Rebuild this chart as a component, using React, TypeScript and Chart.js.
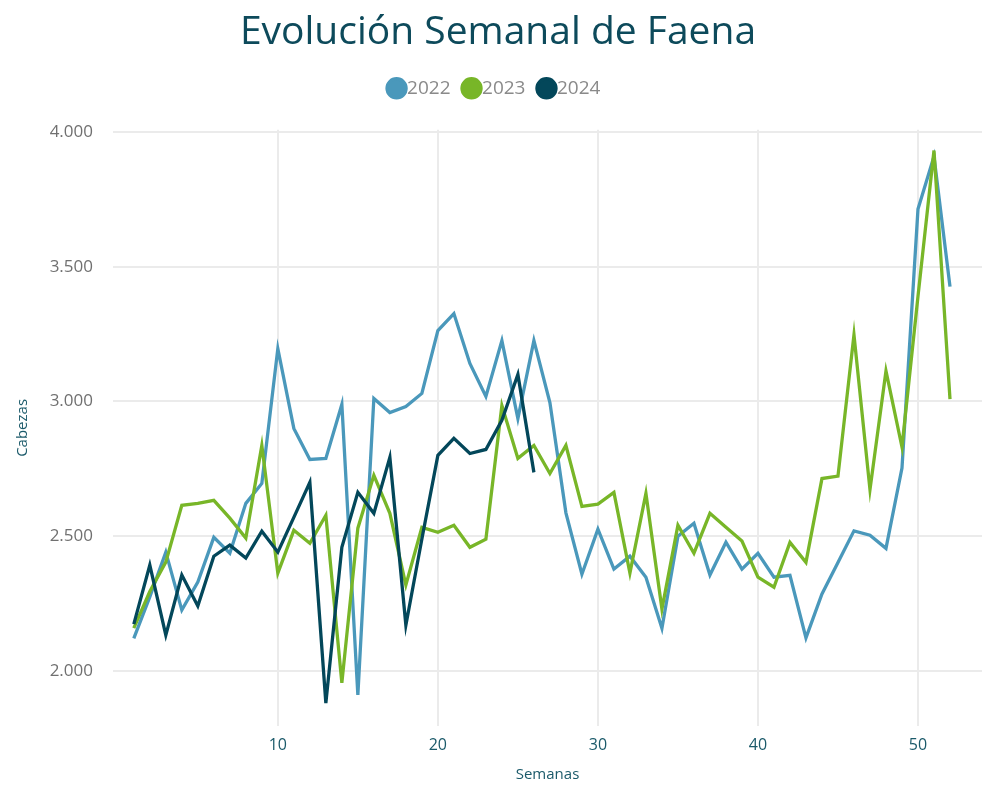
import React, { useEffect, useRef } from "react";
import { Chart, registerables } from "chart.js";

Chart.register(...registerables);

const TITLE = "Evolución Semanal de Faena";
const X_TITLE = "Semanas";
const Y_TITLE = "Cabezas";

const WEEKS = [
  1, 2, 3, 4, 5, 6, 7, 8, 9, 10, 11, 12, 13, 14, 15, 16, 17, 18, 19, 20, 21, 22, 23, 24, 25, 26,
  27, 28, 29, 30, 31, 32, 33, 34, 35, 36, 37, 38, 39, 40, 41, 42, 43, 44, 45, 46, 47, 48, 49, 50, 51, 52,
];

const SERIES_NAMES = ["2022", "2023", "2024"];

const VALUES_2022 = [
  2121, 2275, 2441, 2226, 2330, 2496, 2437, 2622, 2696, 3196, 2900, 2785, 2789, 2989, 1911, 3011,
  2959, 2981, 3030, 3263, 3326, 3141, 3019, 3226, 2937, 3226, 2996, 2587, 2359, 2526, 2378, 2426,
  2348, 2159, 2500, 2548, 2356, 2478, 2378, 2437, 2348, 2355, 2123, 2286, 2403, 2520, 2504, 2455,
  2753, 3714, 3909, 3426,
];

const VALUES_2023 = [
  2159, 2295, 2404, 2615, 2622, 2633, 2567, 2493, 2837, 2363, 2522, 2474, 2578, 1956, 2530, 2726,
  2585, 2319, 2533, 2515, 2541, 2459, 2489, 2985, 2789, 2837, 2733, 2837, 2611, 2619, 2663, 2363,
  2659, 2230, 2541, 2437, 2585, 2533, 2482, 2348, 2311, 2477, 2403, 2714, 2723, 3247, 2673, 3113,
  2831, 3390, 3931, 3009,
];

const VALUES_2024 = [
  2174, 2393, 2133, 2356, 2241, 2426, 2467, 2419, 2519, 2441, 2570, 2700, 1881, 2459, 2663, 2585,
  2793, 2170, 2490, 2800, 2863, 2807, 2822, 2930, 3100, 2737,
];

const X_TICKS = [10, 20, 30, 40, 50];
const Y_TICKS = [2000, 2500, 3000, 3500, 4000];

const COLORS = ["#4a98bb", "#78b628", "#03475a"];
const FONT = "'Open Sans', 'Noto Sans', sans-serif";

function fmt(v: number): string {
  return String(Math.round(v)).replace(/\B(?=(\d{3})+(?!\d))/g, ".");
}

function toPoints(vals: number[]) {
  return vals.map((v, i) => ({ x: WEEKS[i], y: v }));
}

const legendGap = {
  id: "legendGap",
  beforeInit(chart: any) {
    const legend = chart.legend;
    if (!legend) return;
    const orig = legend.fit;
    legend.fit = function (this: any) {
      orig.call(this);
      this.height += 22;
    };
  },
};

export default function App() {
  const ref = useRef<HTMLCanvasElement | null>(null);

  useEffect(() => {
    document.body.style.margin = "0";
    const canvas = ref.current;
    if (!canvas) return;
    const allValues = [VALUES_2022, VALUES_2023, VALUES_2024];
    const chart = new Chart(canvas, {
      type: "line",
      data: {
        datasets: allValues.map((vals, i) => ({
          label: SERIES_NAMES[i],
          data: toPoints(vals),
          borderColor: COLORS[i],
          backgroundColor: COLORS[i],
          borderWidth: 3.3,
          pointRadius: 0,
          pointHoverRadius: 0,
          tension: 0,
          fill: false,
          order: 3 - i,
        })),
      },
      plugins: [legendGap],
      options: {
        animation: false,
        responsive: false,
        maintainAspectRatio: false,
        layout: { padding: { top: 0, left: 14, right: 0, bottom: 0 } },
        plugins: {
          title: {
            display: true,
            text: TITLE,
            color: "#0d4a5b",
            font: { family: FONT, size: 39, weight: "normal" },
            padding: { top: 9, bottom: 3 },
          },
          legend: {
            display: true,
            position: "top",
            labels: {
              usePointStyle: true,
              pointStyle: "circle",
              boxWidth: 2,
              boxHeight: 13.5,
              padding: 20,
              color: "#8a8a8a",
              font: { family: FONT, size: 19 },
              sort: (a: any, b: any) => a.datasetIndex - b.datasetIndex,
            },
          },
          tooltip: { enabled: false },
        },
        scales: {
          x: {
            type: "linear",
            min: -0.3,
            max: 54,
            afterBuildTicks: (scale: any) => {
              scale.ticks = X_TICKS.map((v) => ({ value: v }));
            },
            afterFit: (scale: any) => {
              scale.height = 59;
            },
            grid: { color: "#ebebeb", lineWidth: 2, drawTicks: false },
            border: { display: false },
            ticks: {
              color: "#1b5a6a",
              font: { family: FONT, size: 16 },
              padding: 10,
              maxRotation: 0,
            },
            title: {
              display: true,
              text: X_TITLE,
              color: "#1b5a6a",
              font: { family: FONT, size: 15 },
              padding: { top: 0, bottom: 1 },
            },
          },
          y: {
            type: "linear",
            min: 1796,
            max: 4008,
            afterBuildTicks: (scale: any) => {
              scale.ticks = Y_TICKS.map((v) => ({ value: v }));
            },
            afterFit: (scale: any) => {
              scale.width = 99;
            },
            grid: { color: "#ebebeb", lineWidth: 2, drawTicks: false },
            border: { display: false },
            ticks: {
              color: "#707070",
              font: { family: FONT, size: 17 },
              padding: 20,
              callback: (v: any) => fmt(Number(v)),
            },
            title: {
              display: true,
              text: Y_TITLE,
              color: "#1b5a6a",
              font: { family: FONT, size: 15 },
              padding: { top: 0, bottom: 0 },
            },
          },
        },
      },
    });
    return () => chart.destroy();
  }, []);

  return (
    <div style={{ width: 982, height: 785 }}>
      <canvas ref={ref} width={982} height={785} style={{ display: "block" }} />
    </div>
  );
}
